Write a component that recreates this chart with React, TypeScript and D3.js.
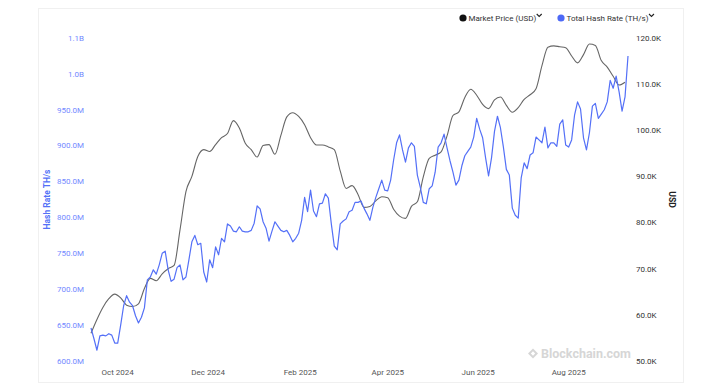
import React, { useEffect, useRef } from 'react';
import * as d3 from 'd3';

// hash rate in millions of TH/s, one reading every 2 days from 13 Sep 2024
const hashStart = new Date(2024, 8, 13);
const hashRate = [
    646, 631, 615, 635, 636, 635, 638, 636, 625, 625,
    650, 677, 691, 682, 677, 663, 653, 661, 674, 713,
    717, 727, 721, 734, 750, 753, 727, 711, 714, 730,
    734, 713, 717, 741, 766, 775, 762, 764, 724, 710,
    741, 730, 759, 748, 771, 766, 791, 788, 781, 780,
    787, 781, 780, 780, 782, 792, 816, 812, 794, 785,
    767, 781, 794, 788, 782, 780, 782, 775, 766, 771,
    778, 796, 828, 808, 838, 809, 801, 819, 820, 833,
    827, 791, 760, 755, 791, 795, 798, 808, 810, 821,
    821, 823, 813, 805, 796, 814, 828, 840, 852, 838,
    837, 852, 880, 904, 915, 894, 877, 897, 904, 899,
    859, 842, 821, 819, 840, 844, 863, 898, 904, 916,
    897, 879, 863, 845, 852, 872, 886, 892, 898, 912,
    938, 923, 911, 883, 858, 883, 920, 941, 925, 898,
    867, 859, 813, 803, 799, 855, 876, 868, 887, 890,
    912, 908, 904, 926, 897, 904, 904, 899, 930, 936,
    901, 898, 908, 943, 961, 951, 911, 894, 918, 955,
    959, 938, 944, 950, 961, 991, 980, 997, 975, 948,
    968, 1025,
];

// market price in thousands of USD, one reading every 4 days
const priceStart = new Date(2024, 8, 13);
const marketPrice = [
    56.0, 59.0, 61.6, 63.5, 64.5, 63.7, 62.1, 61.8, 62.4, 65.7,
    67.9, 67.4, 68.9, 70.0, 70.7, 78.4, 86.7, 90.0, 94.3, 95.8,
    95.4, 96.9, 98.4, 99.3, 102.1, 100.5, 97.2, 95.8, 94.2, 96.7,
    96.9, 94.8, 98.9, 102.9, 103.8, 103.0, 101.2, 98.4, 96.8, 96.8,
    96.4, 95.8, 91.2, 87.4, 88.0, 86.1, 83.3, 83.5, 84.7, 85.6,
    85.4, 82.9, 81.4, 80.9, 83.5, 84.5, 89.9, 93.9, 94.6, 95.3,
    98.8, 103.2, 104.0, 107.1, 108.9, 107.6, 105.6, 104.7, 106.6, 107.2,
    105.4, 103.9, 104.9, 106.7, 107.7, 109.0, 114.0, 118.0, 118.3, 118.1,
    117.9, 116.1, 114.6, 116.4, 118.7, 118.4, 115.1, 113.7, 111.7, 109.8,
    110.4,
];

const endDate = new Date(2025, 8, 10);
const hashTicks = [600, 650, 700, 750, 800, 850, 900, 950, 1000, 1050];
const priceTicks = [50, 60, 70, 80, 90, 100, 110, 120];
const monthTicks = [
    new Date(2024, 9, 1), new Date(2024, 11, 1), new Date(2025, 1, 1),
    new Date(2025, 3, 1), new Date(2025, 5, 1), new Date(2025, 7, 1),
];

const width = 714;
const height = 391;
const hashColor = '#5470f7';
const font = 'Roboto, "Liberation Sans", Arial, sans-serif';

const App: React.FC = () => {
    const ref = useRef<SVGSVGElement>(null);

    useEffect(() => {
        drawChart();
        // eslint-disable-next-line
    }, []);

    const drawChart = () => {
        const svg = d3.select(ref.current);
        svg.selectAll('*').remove();

        const x = d3.scaleTime().domain([hashStart, endDate]).range([91, 628]);
        const yHash = d3.scaleLinear().domain([600, 1050]).range([361, 38]);
        const yPrice = d3.scaleLinear().domain([50, 120]).range([361, 38]);

        // card frame
        svg.append('rect')
            .attr('x', 38.5).attr('y', 8.5)
            .attr('width', 645).attr('height', 374)
            .attr('fill', '#fff')
            .attr('stroke', '#f0f0f0');

        // watermark
        const wm = svg.append('g').attr('fill', '#d6d6d6');
        wm.append('path').attr('d', 'M533 348.5 L538 353.5 L533 358.5 L528 353.5 Z');
        wm.append('path').attr('d', 'M533 351.3 L535.2 353.5 L533 355.7 L530.8 353.5 Z').attr('fill', '#fff');
        wm.append('text')
            .attr('x', 541).attr('y', 358)
            .attr('font-family', font).attr('font-size', 12.5).attr('font-weight', 700)
            .text('Blockchain.com');

        // left axis
        svg.append('g')
            .selectAll('text')
            .data(hashTicks)
            .enter()
            .append('text')
            .attr('x', 84)
            .attr('y', (d) => yHash(d))
            .attr('dy', '0.35em')
            .attr('text-anchor', 'end')
            .attr('font-family', font).attr('font-size', 8)
            .attr('fill', '#7289ff')
            .text((d) => d >= 1000 ? (d / 1000).toFixed(1) + 'B' : d.toFixed(1) + 'M');

        svg.append('text')
            .attr('transform', `translate(50, ${yHash(825)}) rotate(-90)`)
            .attr('text-anchor', 'middle')
            .attr('font-family', font).attr('font-size', 8.5).attr('font-weight', 700)
            .attr('fill', hashColor)
            .text('Hash Rate TH/s');

        // right axis
        svg.append('g')
            .selectAll('text')
            .data(priceTicks)
            .enter()
            .append('text')
            .attr('x', 636)
            .attr('y', (d) => yPrice(d))
            .attr('dy', '0.35em')
            .attr('font-family', font).attr('font-size', 8)
            .attr('fill', '#333')
            .text((d) => d.toFixed(1) + 'K');

        svg.append('text')
            .attr('transform', `translate(669, ${yPrice(85)}) rotate(90)`)
            .attr('text-anchor', 'middle')
            .attr('font-family', font).attr('font-size', 8.5).attr('font-weight', 700)
            .attr('fill', '#222')
            .text('USD');

        // x axis
        svg.append('g')
            .selectAll('text')
            .data(monthTicks)
            .enter()
            .append('text')
            .attr('x', (d) => x(d))
            .attr('y', 372)
            .attr('dy', '0.35em')
            .attr('text-anchor', 'middle')
            .attr('font-family', font).attr('font-size', 8)
            .attr('fill', '#555')
            .text((d) => d3.timeFormat('%b %Y')(d));

        // lines
        const hashData = hashRate.map((v, i) => ({ date: d3.timeDay.offset(hashStart, i * 2), value: v }));
        const priceData = marketPrice.map((v, i) => ({ date: d3.timeDay.offset(priceStart, i * 4), value: v }));

        const hashLine = d3.line<{ date: Date; value: number }>()
            .x((d) => x(d.date))
            .y((d) => yHash(d.value));

        const priceLine = d3.line<{ date: Date; value: number }>()
            .x((d) => x(d.date))
            .y((d) => yPrice(d.value))
            .curve(d3.curveMonotoneX);

        svg.append('path')
            .attr('d', priceLine(priceData) as string)
            .attr('fill', 'none')
            .attr('stroke', '#666')
            .attr('stroke-width', 1.1);

        svg.append('path')
            .attr('d', hashLine(hashData) as string)
            .attr('fill', 'none')
            .attr('stroke', hashColor)
            .attr('stroke-width', 1.2)
            .attr('stroke-linejoin', 'round');

        // legend
        const items = [
            { label: 'Market Price (USD)', color: '#111', x: 463 },
            { label: 'Total Hash Rate (TH/s)', color: '#4d69f6', x: 561 },
        ];
        const legend = svg.append('g')
            .selectAll('.legend')
            .data(items)
            .enter()
            .append('g')
            .attr('class', 'legend')
            .attr('transform', (d) => `translate(${d.x}, 18)`);

        legend.append('circle').attr('r', 3.6).attr('fill', (d) => d.color);
        const label = legend.append('text')
            .attr('x', 5.5)
            .attr('dy', '0.35em')
            .attr('font-family', font).attr('font-size', 8)
            .attr('fill', '#333')
            .text((d) => d.label);
        legend.append('path')
            .attr('d', function (this: SVGPathElement, d, i) {
                const w = (label.nodes()[i] as SVGTextElement).getComputedTextLength();
                const cx = 5.5 + w + 3;
                return `M${cx - 2.5} -4 L${cx} -1.5 L${cx + 2.5} -4`;
            })
            .attr('fill', 'none')
            .attr('stroke', '#222')
            .attr('stroke-width', 1.1);
    };

    return (
        <svg ref={ref} width={width} height={height}
            style={{ position: 'absolute', left: 0, top: 0, background: '#fff' }} />
    );
};

export default App;
